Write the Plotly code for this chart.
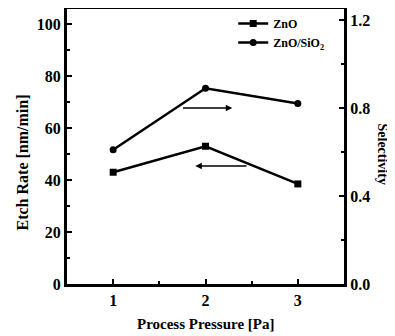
import plotly.graph_objects as go

pressure = [1, 2, 3]
zno_etch = [43, 53, 38.5]
selectivity = [0.61, 0.89, 0.82]

FONT = "Liberation Serif"

fig = go.Figure()
fig.add_trace(go.Scatter(x=pressure, y=zno_etch, name="<b>ZnO</b>", mode="lines+markers",
                         line=dict(color="black", width=2.5),
                         marker=dict(symbol="square", size=7, color="black")))
fig.add_trace(go.Scatter(x=pressure, y=selectivity, name="<b>ZnO/SiO<sub>2</sub></b>", mode="lines+markers",
                         yaxis="y2",
                         line=dict(color="black", width=2.5),
                         marker=dict(symbol="circle", size=7, color="black")))

# arrows indicating which axis each curve belongs to
fig.add_annotation(x=2.29, y=0.80, ax=1.74, ay=0.80, xref="x", yref="y2", axref="x", ayref="y2",
                   showarrow=True, arrowhead=2, arrowsize=1, arrowwidth=1.3, arrowcolor="black", text="")
fig.add_annotation(x=1.89, y=45.4, ax=2.46, ay=45.4, xref="x", yref="y", axref="x", ayref="y",
                   showarrow=True, arrowhead=2, arrowsize=1, arrowwidth=1.3, arrowcolor="black", text="")

# axis titles
fig.add_annotation(text="<b>Etch Rate [nm/min]</b>", xref="paper", yref="paper", x=0, y=0.5,
                   xanchor="center", yanchor="middle", xshift=-45, yshift=-16, textangle=-90,
                   showarrow=False, font=dict(family=FONT, size=16, color="black"))
fig.add_annotation(text="<b>Selectivity</b>", xref="paper", yref="paper", x=1, y=0.5,
                   xanchor="center", yanchor="middle", xshift=38, yshift=-7, textangle=90,
                   showarrow=False, font=dict(family=FONT, size=14, color="black"))
fig.add_annotation(text="<b>Process Pressure [Pa]</b>", xref="paper", yref="paper", x=0.5, y=0,
                   xanchor="center", yanchor="middle", xshift=0, yshift=-40,
                   showarrow=False, font=dict(family=FONT, size=15, color="black"))

axis_common = dict(showline=True, linecolor="black", linewidth=3, ticks="inside", ticklen=5,
                   tickwidth=2, tickcolor="black", showgrid=False, zeroline=False, automargin=False,
                   tickfont=dict(family=FONT, size=16, color="black"))

fig.update_layout(
    width=387, height=328,
    margin=dict(l=59, r=51, t=1, b=52),
    plot_bgcolor="white", paper_bgcolor="white",
    font=dict(family=FONT, color="black"),
    xaxis=dict(range=[0.5, 3.5], tickvals=[1, 2, 3], ticktext=["<b>1</b>", "<b>2</b>", "<b>3</b>"],
               mirror=True,
               minor=dict(ticks="inside", ticklen=3, tickwidth=1.5, tickcolor="black", dtick=0.5, tick0=0.5),
               **axis_common),
    yaxis=dict(range=[0, 105.8], tickvals=[0, 20, 40, 60, 80, 100],
               ticktext=["<b>0</b>", "<b>20</b>", "<b>40</b>", "<b>60</b>", "<b>80</b>", "<b>100</b>"],
               minor=dict(ticks="inside", ticklen=3, tickwidth=1.5, tickcolor="black", dtick=10, tick0=0),
               **axis_common),
    yaxis2=dict(range=[0, 1.25], overlaying="y", side="right", tickvals=[0, 0.4, 0.8, 1.2],
                ticktext=["<b>0.0</b>", "<b>0.4</b>", "<b>0.8</b>", "<b>1.2</b>"],
                minor=dict(ticks="inside", ticklen=3, tickwidth=1.5, tickcolor="black", dtick=0.2, tick0=0),
                **axis_common),
    legend=dict(x=0.60, y=1.0, xanchor="left", yanchor="top", bgcolor="rgba(0,0,0,0)",
                font=dict(family=FONT, size=12, color="black"), tracegroupgap=0, itemwidth=30),
    showlegend=True,
)

fig.write_html("out.html")
